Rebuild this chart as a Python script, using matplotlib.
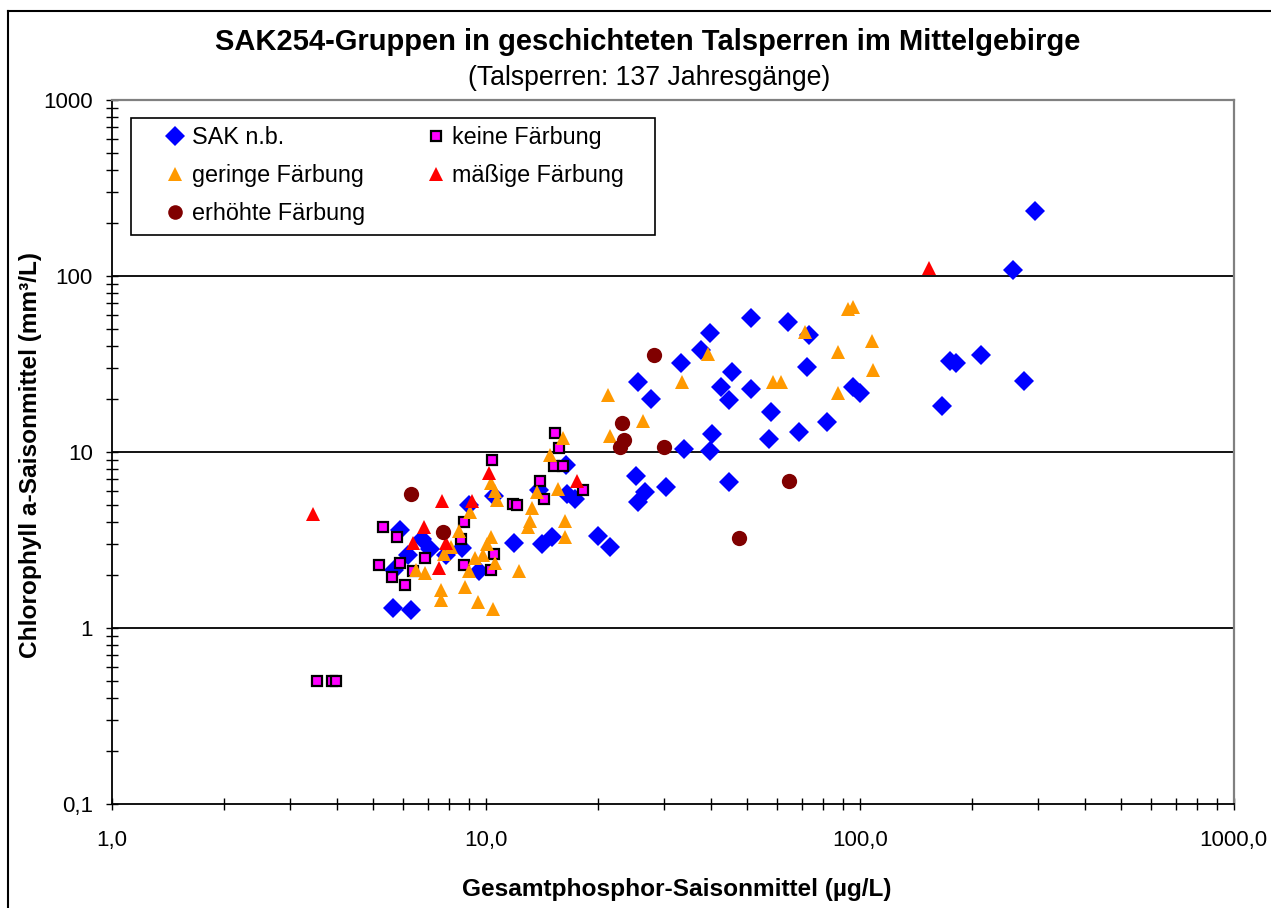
import matplotlib
matplotlib.use("Agg")
import matplotlib.pyplot as plt
from matplotlib.ticker import FixedLocator, FixedFormatter, LogLocator, NullFormatter
from matplotlib.lines import Line2D
from matplotlib.patches import Rectangle

plt.rcParams['font.family'] = ['Liberation Sans', 'DejaVu Sans']

# ---- data ----
sak_x = [16.4, 10.5, 9.0, 13.9, 16.5, 17.3, 5.9, 6.75, 7.1, 6.2, 5.7, 7.85, 8.65, 9.6,
         11.9, 14.1, 15.0, 20.0, 21.5, 5.65, 6.3, 51.2, 64.4, 73.3, 39.8, 37.6, 33.2, 45.6,
         42.7, 51.2, 44.6, 72.2, 25.5, 27.6, 58.0, 40.3, 57.3, 68.9, 81.8, 95.8, 100.4,
         33.9, 39.8, 25.2, 30.3, 26.7, 25.5, 44.6, 294, 257, 174, 181, 211, 166, 275]
sak_y = [8.45, 5.6, 5.0, 6.1, 5.75, 5.4, 3.6, 3.2, 2.8, 2.6, 2.15, 2.6, 2.85, 2.1,
         3.05, 3.0, 3.3, 3.35, 2.9, 1.3, 1.27, 57.5, 54.6, 46.0, 47.3, 38.0, 31.9, 28.4,
         23.3, 22.8, 19.7, 30.4, 25.1, 20.1, 17.0, 12.7, 11.9, 13.05, 14.8, 23.5, 21.8,
         10.45, 10.2, 7.3, 6.3, 5.9, 5.2, 6.75, 234, 108, 33.0, 32.0, 35.5, 18.3, 25.2]

keine_x = [15.3, 15.7, 10.4, 15.2, 16.1, 14.0, 18.2, 14.3, 11.8, 12.1, 8.75, 8.6, 5.3,
           5.8, 6.9, 5.9, 5.2, 6.4, 5.6, 6.1, 10.5, 8.75, 10.3, 3.55, 3.88, 3.98]
keine_y = [12.9, 10.6, 9.0, 8.3, 8.3, 6.9, 6.1, 5.4, 5.1, 5.0, 4.0, 3.2, 3.75,
           3.3, 2.5, 2.35, 2.3, 2.1, 1.95, 1.77, 2.65, 2.3, 2.15, 0.5, 0.5, 0.5]

geringe_x = [16.1, 14.9, 10.35, 10.6, 10.7, 15.6, 13.75, 13.3, 13.1, 13.0, 9.1, 8.5, 16.3,
             16.3, 10.3, 10.1, 9.85, 9.35, 10.6, 9.0, 7.75, 8.1, 6.5, 6.9, 12.3, 7.6, 7.6,
             8.8, 9.55, 10.45, 21.5, 21.2, 26.4, 33.5, 39.3, 58.5, 61.6, 71.4, 93.0, 96.1,
             107.7, 87.5, 108.7, 87.5]
geringe_y = [12.0, 9.65, 6.65, 6.05, 5.35, 6.2, 5.95, 4.8, 4.05, 3.75, 4.55, 3.55, 4.05,
             3.3, 3.3, 3.0, 2.6, 2.5, 2.35, 2.1, 2.65, 2.9, 2.15, 2.05, 2.1, 1.65, 1.45,
             1.72, 1.4, 1.28, 12.3, 21.0, 15.1, 25.1, 35.9, 25.1, 25.1, 48.3, 64.8, 66.4,
             42.7, 36.9, 29.1, 21.6]

maessig_x = [3.45, 7.65, 9.2, 10.2, 6.85, 6.4, 7.5, 7.85, 17.5, 153]
maessig_y = [4.45, 5.3, 5.3, 7.6, 3.75, 3.05, 2.2, 3.05, 6.9, 111]

erhoeht_x = [6.3, 7.7, 28.1, 23.1, 23.4, 22.9, 30.0, 64.7, 47.6]
erhoeht_y = [5.8, 3.5, 35.7, 14.6, 11.7, 10.65, 10.65, 6.9, 3.24]

x_ticks = [1, 10, 100, 1000]
x_labels = ["1,0", "10,0", "100,0", "1000,0"]
y_ticks = [0.1, 1, 10, 100, 1000]
y_labels = ["0,1", "1", "10", "100", "1000"]

title = "SAK254-Gruppen in geschichteten Talsperren im Mittelgebirge"
subtitle = "(Talsperren: 137 Jahresgänge)"
xlabel = "Gesamtphosphor-Saisonmittel (µg/L)"
ylabel = "Chlorophyll a-Saisonmittel (mm³/L)"

# ---- figure ----
W, H = 1271, 908
fig = plt.figure(figsize=(W / 100, H / 100), dpi=100)
ax = fig.add_axes([111.7 / W, 1 - 804.3 / H, 1122 / W, 704.3 / H])

ax.set_xscale('log')
ax.set_yscale('log')
ax.set_xlim(1, 1000)
ax.set_ylim(0.1, 1000)

# grid lines at major y
for yv in y_ticks[1:-1]:
    ax.axhline(yv, color='black', lw=1.3, zorder=1)

ms_kw = dict(linestyle='none')
ax.plot(sak_x, sak_y, marker='D', ms=10.5, color='#0000FF', mec='#0000FF', mew=0, zorder=3, **ms_kw)
ax.plot(keine_x, keine_y, marker='s', ms=7.2, color='#FF00FF', mec='black', mew=1.6, zorder=4, **ms_kw)
ax.plot(geringe_x, geringe_y, marker='^', ms=10.5, color='#FF9900', mec='#FF9900', mew=0, zorder=5, **ms_kw)
ax.plot(maessig_x, maessig_y, marker='^', ms=10.5, color='#FF0000', mec='#FF0000', mew=0, zorder=6, **ms_kw)
ax.plot(erhoeht_x, erhoeht_y, marker='o', ms=11, color='#800000', mec='#800000', mew=0, zorder=7, **ms_kw)

# spines
for s in ['left', 'bottom']:
    ax.spines[s].set_color('black')
    ax.spines[s].set_linewidth(1.3)
for s in ['top', 'right']:
    ax.spines[s].set_color('#808080')
    ax.spines[s].set_linewidth(1.6)

ax.xaxis.set_major_locator(FixedLocator(x_ticks))
ax.xaxis.set_major_formatter(FixedFormatter(x_labels))
ax.yaxis.set_major_locator(FixedLocator(y_ticks))
ax.yaxis.set_major_formatter(FixedFormatter(y_labels))
ax.xaxis.set_minor_locator(LogLocator(base=10, subs=range(2, 10)))
ax.yaxis.set_minor_locator(LogLocator(base=10, subs=range(2, 10)))
ax.xaxis.set_minor_formatter(NullFormatter())
ax.yaxis.set_minor_formatter(NullFormatter())

ax.tick_params(axis='both', which='both', direction='inout', length=9, width=1.0, color='black',
               labelsize=16, top=False, right=False)
ax.tick_params(axis='x', which='both', pad=14)
ax.tick_params(axis='y', which='both', pad=9)

ax.set_xlabel(xlabel, fontsize=17.6, fontweight='bold')
ax.xaxis.set_label_coords((677 - 111.7) / 1122, -(878 - 804.3) / 704.3)
ax.set_ylabel(ylabel, fontsize=17.6, fontweight='bold')
ax.yaxis.set_label_coords(-(111.7 - 42) / 1122, (804.3 - 455) / 704.3)

fig.text(647.5 / W, 1 - 42 / H, title, ha='center', va='center', fontsize=21, fontweight='bold')
fig.text(649.5 / W, 1 - 78 / H, subtitle, ha='center', va='center', fontsize=19.2)

# legend (frame drawn separately)
handles = [
    Line2D([], [], marker='D', ms=10, color='#0000FF', mew=0, ls='none'),
    Line2D([], [], marker='^', ms=10, color='#FF9900', mew=0, ls='none'),
    Line2D([], [], marker='o', ms=10.5, color='#800000', mew=0, ls='none'),
    Line2D([], [], marker='s', ms=6.5, color='#FF00FF', mec='black', mew=1.6, ls='none'),
    Line2D([], [], marker='^', ms=10, color='#FF0000', mew=0, ls='none'),
]
labels = ["SAK n.b.", "geringe Färbung", "erhöhte Färbung", "keine Färbung", "mäßige Färbung"]
leg = fig.legend(handles, labels, ncol=2, loc='upper left',
                 bbox_to_anchor=(164 / W, 1 - 126 / H), bbox_transform=fig.transFigure,
                 borderaxespad=0, fontsize=16.8, frameon=False,
                 handlelength=0.97, handletextpad=0.22,
                 labelspacing=0.64, borderpad=0, columnspacing=2.55)
leg.set_zorder(10)
fig.add_artist(Rectangle((131 / W, 1 - 235 / H), (655 - 131) / W, (235 - 118) / H,
                         transform=fig.transFigure, fill=True, facecolor='white',
                         edgecolor='black', lw=1.2, zorder=9))

# outer chart border
fig.add_artist(Line2D([8 / W, 8 / W], [0, 1 - 11 / H], transform=fig.transFigure, color='black', lw=1.5))
fig.add_artist(Line2D([8 / W, 1], [1 - 11 / H, 1 - 11 / H], transform=fig.transFigure, color='black', lw=1.5))

fig.savefig('out.png', dpi=100)
